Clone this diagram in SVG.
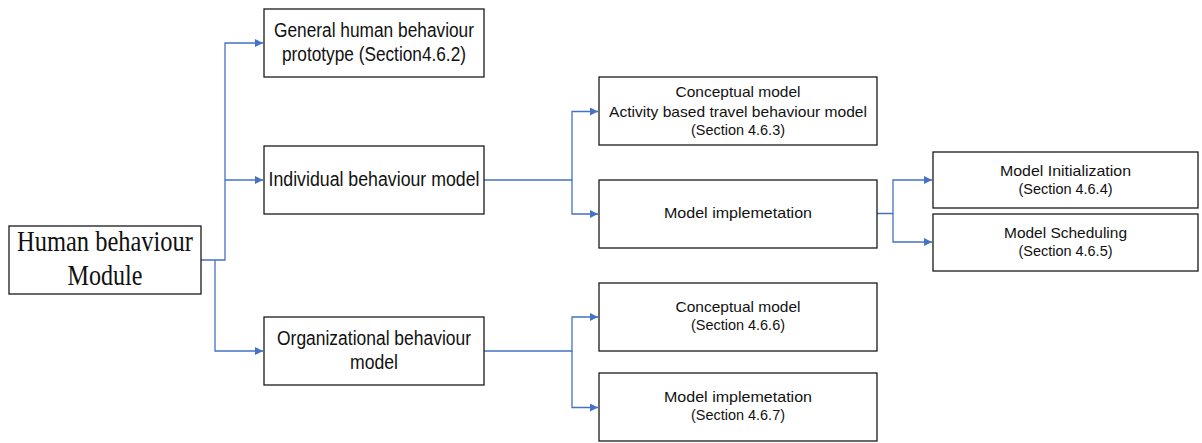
<svg xmlns="http://www.w3.org/2000/svg" width="1202" height="443" viewBox="0 0 1202 443">
  <style>
    .box { fill: #ffffff; stroke: #1a1a1a; stroke-width: 1.3; }
    .link { fill: none; stroke: #4472c4; stroke-width: 1.3; }
    .sans { font-family: "Liberation Sans", "Noto Sans", Arial, sans-serif; fill: #111111; text-anchor: middle; }
    .serif { font-family: "Liberation Serif", "DejaVu Serif", serif; fill: #111111; text-anchor: middle; }
    .lg { font-size: 20px; }
    .sm { font-size: 15px; }
  </style>
  <defs>
    <marker id="arrow" markerUnits="userSpaceOnUse" markerWidth="9" markerHeight="9" refX="8" refY="4" orient="auto">
      <path d="M0,0 L8,4 L0,8 z" fill="#4472c4"/>
    </marker>
  </defs>
  <rect width="1202" height="443" fill="#ffffff"/>

  <!-- connectors -->
  <g id="connectors">
    <path class="link" d="M201,260 H225 V43 H263" marker-end="url(#arrow)"/>
    <path class="link" d="M225,180 H263" marker-end="url(#arrow)"/>
    <path class="link" d="M215,260 V351 H263" marker-end="url(#arrow)"/>
    <path class="link" d="M484,180 H572 V111.5 H598" marker-end="url(#arrow)"/>
    <path class="link" d="M572,180 V214 H598" marker-end="url(#arrow)"/>
    <path class="link" d="M877,213.5 H893 V180 H932" marker-end="url(#arrow)"/>
    <path class="link" d="M893,213.5 V242 H932" marker-end="url(#arrow)"/>
    <path class="link" d="M484,351 H572 V317 H598" marker-end="url(#arrow)"/>
    <path class="link" d="M572,351 V407.5 H598" marker-end="url(#arrow)"/>
  </g>

  <!-- root -->
  <g id="human-behaviour-module">
    <rect class="box" x="9" y="226" width="192" height="68"/>
    <text class="serif" font-size="29" x="105" y="251" textLength="176" lengthAdjust="spacingAndGlyphs">Human behaviour</text>
    <text class="serif" font-size="29" x="105" y="285" textLength="75" lengthAdjust="spacingAndGlyphs">Module</text>
  </g>

  <!-- first level -->
  <g id="general-prototype">
    <rect class="box" x="264" y="9" width="220" height="68"/>
    <text class="sans lg" x="374" y="37" textLength="200" lengthAdjust="spacingAndGlyphs">General human behaviour</text>
    <text class="sans lg" x="374" y="61" textLength="184" lengthAdjust="spacingAndGlyphs">prototype (Section4.6.2)</text>
  </g>
  <g id="individual-model">
    <rect class="box" x="264" y="146" width="220" height="68"/>
    <text class="sans lg" x="374" y="186" textLength="211" lengthAdjust="spacingAndGlyphs">Individual behaviour model</text>
  </g>
  <g id="organizational-model">
    <rect class="box" x="264" y="317" width="220" height="68"/>
    <text class="sans lg" x="374" y="345" textLength="194" lengthAdjust="spacingAndGlyphs">Organizational behaviour</text>
    <text class="sans lg" x="374" y="369" textLength="48" lengthAdjust="spacingAndGlyphs">model</text>
  </g>

  <!-- second level -->
  <g id="individual-conceptual">
    <rect class="box" x="599" y="77" width="278" height="68"/>
    <text class="sans sm" x="738" y="97" textLength="125" lengthAdjust="spacingAndGlyphs">Conceptual model</text>
    <text class="sans sm" x="738" y="117" textLength="258" lengthAdjust="spacingAndGlyphs">Activity based travel behaviour model</text>
    <text class="sans sm" x="738" y="135" textLength="94" lengthAdjust="spacingAndGlyphs">(Section 4.6.3)</text>
  </g>
  <g id="individual-implementation">
    <rect class="box" x="599" y="180" width="278" height="68"/>
    <text class="sans sm" x="738" y="218" textLength="148" lengthAdjust="spacingAndGlyphs">Model implemetation</text>
  </g>
  <g id="organizational-conceptual">
    <rect class="box" x="599" y="283" width="278" height="68"/>
    <text class="sans sm" x="738" y="312" textLength="125" lengthAdjust="spacingAndGlyphs">Conceptual model</text>
    <text class="sans sm" x="738" y="330" textLength="94" lengthAdjust="spacingAndGlyphs">(Section 4.6.6)</text>
  </g>
  <g id="organizational-implementation">
    <rect class="box" x="599" y="373" width="278" height="68"/>
    <text class="sans sm" x="738" y="402" textLength="148" lengthAdjust="spacingAndGlyphs">Model implemetation</text>
    <text class="sans sm" x="738" y="420" textLength="94" lengthAdjust="spacingAndGlyphs">(Section 4.6.7)</text>
  </g>

  <!-- third level -->
  <g id="model-initialization">
    <rect class="box" x="933" y="152" width="265" height="56"/>
    <text class="sans sm" x="1065.5" y="176" textLength="131" lengthAdjust="spacingAndGlyphs">Model Initialization</text>
    <text class="sans sm" x="1065.5" y="194" textLength="94" lengthAdjust="spacingAndGlyphs">(Section 4.6.4)</text>
  </g>
  <g id="model-scheduling">
    <rect class="box" x="933" y="214" width="265" height="57"/>
    <text class="sans sm" x="1065.5" y="238" textLength="123" lengthAdjust="spacingAndGlyphs">Model Scheduling</text>
    <text class="sans sm" x="1065.5" y="256" textLength="94" lengthAdjust="spacingAndGlyphs">(Section 4.6.5)</text>
  </g>
</svg>
